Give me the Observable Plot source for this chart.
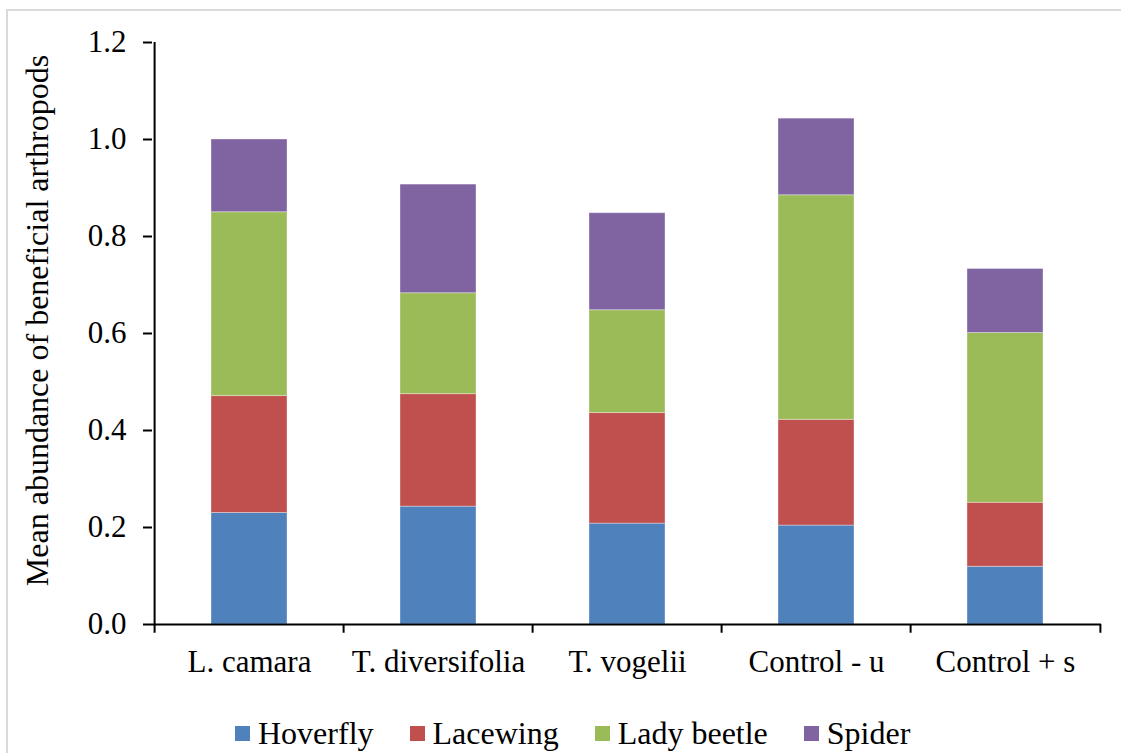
<!DOCTYPE html>
<html>
<head>
<meta charset="utf-8">
<script src="https://cdn.jsdelivr.net/npm/d3@7"></script>
<script src="https://cdn.jsdelivr.net/npm/@observablehq/plot@0.6"></script>
<style>
  html, body { margin: 0; padding: 0; background: #fff; }
  body { width: 1121px; height: 753px; position: relative; overflow: hidden; font-family: "Liberation Serif", "Times New Roman", serif; }
  #border { position: absolute; left: 6px; top: 9px; right: -10px; bottom: -10px; border-top: 2px solid #d9d9d9; border-left: 2px solid #d9d9d9; }
  #chart { position: absolute; left: 0; top: 0; }
  #chart svg, #chart svg text { font-family: "Liberation Serif", "Times New Roman", serif !important; }
  #legend { position: absolute; left: 235px; top: 715px; display: flex; align-items: center; font-size: 32px; color: #000; white-space: nowrap; }
  .item { display: flex; align-items: center; margin-right: 36px; }
  .sw { width: 15px; height: 15px; margin-right: 8px; }
</style>
</head>
<body>
<div id="border"></div>
<div id="chart"></div>
<div id="legend"></div>
<script>
const sites = ["L. camara", "T. diversifolia", "T. vogelii", "Control - u", "Control + s"];
const taxa = ["Hoverfly", "Lacewing", "Lady beetle", "Spider"];
const colors = ["#4F81BD", "#C0504D", "#9BBB59", "#8064A2"];
const hoverfly   = [0.230, 0.243, 0.208, 0.204, 0.119];
const lacewing   = [0.241, 0.232, 0.228, 0.218, 0.132];
const ladyBeetle = [0.379, 0.208, 0.212, 0.463, 0.350];
const spider     = [0.150, 0.224, 0.200, 0.158, 0.132];
const yTicks = [0, 0.2, 0.4, 0.6, 0.8, 1.0, 1.2];
const yLabel = "Mean abundance of beneficial arthropods";

const series = [hoverfly, lacewing, ladyBeetle, spider];
const data = [];
taxa.forEach((t, k) => sites.forEach((s, i) => data.push({site: s, taxon: t, value: series[k][i]})));

const W = 1121, H = 700, mL = 152, mR = 20, mT = 42, mB = 76;
const step = (W - mL - mR) / sites.length;
const font = "Liberation Serif, Times New Roman, serif";

const chart = Plot.plot({
  width: W, height: H,
  marginLeft: mL, marginRight: mR, marginTop: mT, marginBottom: mB,
  style: {fontFamily: font, fontSize: "30px", color: "#000", background: "transparent"},
  x: {domain: sites, paddingInner: 0.6, paddingOuter: 0.3, label: null},
  y: {domain: [0, 1.2], label: null},
  color: {domain: taxa, range: colors},
  marks: [
    Plot.barY(data, {x: "site", y: "value", fill: "taxon", stroke: "#fff", strokeOpacity: 0.35, strokeWidth: 1}),
    Plot.ruleY([0], {stroke: "#000", strokeWidth: 2}),
    Plot.ruleX([sites[0]], {x: d => d, y1: -0.018, y2: 1.2, dx: -step / 2, stroke: "#000", strokeWidth: 2}),
    Plot.ruleX(sites.slice(1), {x: d => d, y1: 0, y2: -0.018, dx: -step / 2, stroke: "#000", strokeWidth: 2}),
    Plot.ruleX([sites[sites.length - 1]], {x: d => d, y1: 0, y2: -0.018, dx: step / 2, stroke: "#000", strokeWidth: 2}),
    Plot.axisY({ticks: yTicks, tickFormat: d3.format(".1f"), tickSize: 9, tickPadding: 17, fontSize: 31, fontFamily: font, strokeWidth: 2, label: null}),
    Plot.axisX({tickSize: 0, tickPadding: 25, fontSize: 31, fontFamily: font, label: null}),
    Plot.text([yLabel], {frameAnchor: "left", rotate: -90, textAnchor: "middle", lineAnchor: "middle", dx: -115, dy: -13, fontSize: 32, fontFamily: font, fill: "#000"})
  ]
});
document.getElementById("chart").appendChild(chart);

const legend = document.getElementById("legend");
taxa.forEach((t, k) => {
  const it = document.createElement("div");
  it.className = "item";
  const sw = document.createElement("div");
  sw.className = "sw";
  sw.style.background = colors[k];
  const lab = document.createElement("span");
  lab.textContent = t;
  it.appendChild(sw); it.appendChild(lab);
  legend.appendChild(it);
});
</script>
</body>
</html>
